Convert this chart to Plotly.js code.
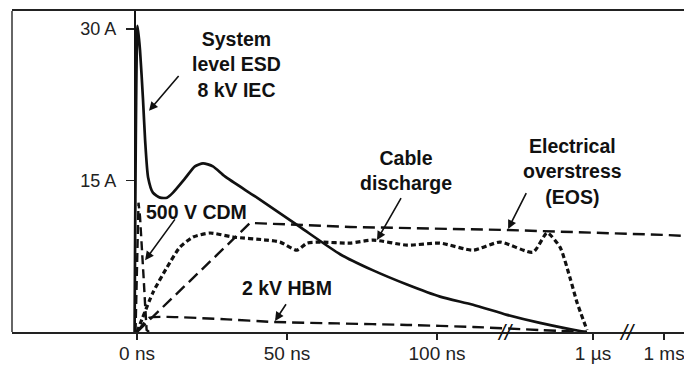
<!DOCTYPE html>
<html>
<head>
<meta charset="utf-8">
<script src="https://cdn.plot.ly/plotly-3.0.1.min.js"></script>
<style>html,body{margin:0;padding:0;background:#fff;}#chart{width:684px;height:366px;}</style>
</head>
<body>
<div id="chart"></div>
<script>
// Time axis is a compressed (broken) scale: 0–150 ns linear, then 1 µs and 1 ms positions.
const xTickVals = [0, 50, 100, 152, 175.7];
const xTickText = ["0 ns", "50 ns", "100 ns", "1 \u00b5s", "1 ms"];
const yTickVals = [15, 30];
const yTickText = ["15 A", "30 A"];
const axisBreaks = [122.7, 163.3];

// System level ESD 8 kV IEC (solid)
const esdT = [-0.8, 0.2, 1, 2, 2.7, 3.7, 5.3, 7.7, 10, 12, 16, 19.3, 22, 25.3, 29.3, 40, 54.3, 67.7, 78.7, 90, 101, 112, 123.3, 134.3, 147.7, 150];
const esdA = [0, 30.3, 27.9, 23, 19, 15.3, 13.8, 13.3, 13.3, 13.8, 15.2, 16.4, 16.7, 16.4, 15.4, 13.3, 10.4, 7.7, 6.1, 4.7, 3.5, 2.7, 1.7, 0.9, 0.1, 0];

// 500 V CDM (dashed)
const cdmT = [-0.5, 0.5, 1, 1.7, 2.2, 2.7, 3.2, 4];
const cdmA = [0, 12.8, 11.4, 8.4, 5.4, 2.7, 0.2, 0];

// 2 kV HBM (dashed)
const hbmT = [0, 4, 10, 30, 45, 67, 90, 112, 134, 150];
const hbmA = [0, 1.4, 1.5, 1.25, 1.0, 0.85, 0.7, 0.5, 0.2, 0];

// Electrical overstress (EOS) (dashed)
const eosT = [0, 37.7, 71, 123, 177, 183];
const eosA = [0, 10.8, 10.4, 10.1, 9.6, 9.5];

// Cable discharge (short dashes)
const cableT = [0, 5.3, 10, 14.3, 18.7, 24.3, 32, 43.3, 47.7, 53.3, 56.7, 61, 71, 78.7, 90, 101, 112, 121, 132, 136.7, 141, 144.3, 146.7, 150];
const cableA = [0, 3.9, 6.4, 8.4, 9.4, 9.8, 9.4, 9.1, 8.9, 8.1, 8.8, 8.9, 8.8, 9.1, 8.6, 8.8, 8.1, 8.9, 7.9, 9.8, 8.4, 5.4, 2.9, 0.2];

const ink = '#111';
const traces = [
  {x: esdT, y: esdA, mode: 'lines', line: {color: ink, width: 2.7, shape: 'spline', smoothing: 0.6}},
  {x: cdmT, y: cdmA, mode: 'lines', line: {color: ink, width: 2.4, dash: '9px,5px'}},
  {x: hbmT, y: hbmA, mode: 'lines', line: {color: ink, width: 2.4, dash: '12px,6px', shape: 'spline', smoothing: 0.5}},
  {x: eosT, y: eosA, mode: 'lines', line: {color: ink, width: 2.4, dash: '12px,6px'}},
  {x: cableT, y: cableA, mode: 'lines', line: {color: ink, width: 3.2, dash: '5px,3px', shape: 'spline', smoothing: 0.6}}
];

const labelFont = {family: 'Liberation Sans, Arial, sans-serif', size: 19.5, color: '#111', weight: 'bold'};
function label(text, x, y) {
  return {text: '<b>' + text + '</b>', x: x, y: y, xref: 'x', yref: 'y', showarrow: false,
          xanchor: 'center', yanchor: 'middle', align: 'center', font: labelFont};
}
function arrow(tx, ty, hx, hy) {
  return {text: '', x: hx, y: hy, ax: tx, ay: ty, xref: 'x', yref: 'y', axref: 'x', ayref: 'y',
          showarrow: true, arrowhead: 2, arrowsize: 1.1, arrowwidth: 1.6, arrowcolor: ink, standoff: 0, startstandoff: 0};
}

const annotations = [
  label('System<br>level ESD<br>8 kV IEC', 33.2, 26.5),
  arrow(14.3, 25.5, 4, 21.9),
  label('500 V CDM', 19.7, 11.9),
  arrow(13, 11.3, 2.7, 7.1),
  label('2 kV HBM', 50, 4.4),
  arrow(50, 2.9, 46, 1.1),
  label('Cable<br>discharge', 89.6, 16.0),
  arrow(88.3, 13.4, 80, 9.1),
  label('Electrical<br>overstress<br>(EOS)', 145.2, 15.9),
  arrow(130, 13.9, 123.7, 10.2)
];
axisBreaks.forEach(function (b) {
  annotations.push({text: '<i>//</i>', x: b, y: 0, xref: 'x', yref: 'paper', showarrow: false,
    xanchor: 'center', yanchor: 'middle', font: {family: 'Liberation Sans, Arial, sans-serif', size: 22, color: ink}});
});

const layout = {
  width: 684, height: 366,
  margin: {l: 12, r: 0, t: 11, b: 34, pad: 0},
  paper_bgcolor: '#fff', plot_bgcolor: '#fff',
  showlegend: false,
  font: {family: 'Liberation Sans, Arial, sans-serif', color: '#222'},
  xaxis: {
    range: [-41.67, 182.33], domain: [0, 1],
    showgrid: false, zeroline: false,
    showline: true, mirror: true, linecolor: '#222', linewidth: 2,
    ticks: 'outside', ticklen: 6, tickwidth: 2, tickcolor: '#222',
    tickvals: xTickVals, ticktext: xTickText, ticklabeloverflow: 'allow', ticklabelstandoff: -3,
    tickfont: {size: 19, color: '#222'}
  },
  yaxis: {
    range: [0, 31.78], anchor: 'free', position: 0.183,
    showgrid: false, zeroline: false,
    showline: true, linecolor: '#111', linewidth: 2.5,
    ticks: 'outside', ticklen: 8, tickwidth: 1.5, tickcolor: '#222',
    tickvals: yTickVals, ticktext: yTickText, ticklabelstandoff: 6,
    tickfont: {size: 18, color: '#222'}
  },
  shapes: [
    {type: 'line', xref: 'paper', yref: 'paper', x0: 0, x1: 0, y0: 0, y1: 1, line: {color: '#333', width: 1.5}}
  ],
  annotations: annotations
};

Plotly.newPlot('chart', traces, layout, {displayModeBar: false, staticPlot: true});
</script>
</body>
</html>
